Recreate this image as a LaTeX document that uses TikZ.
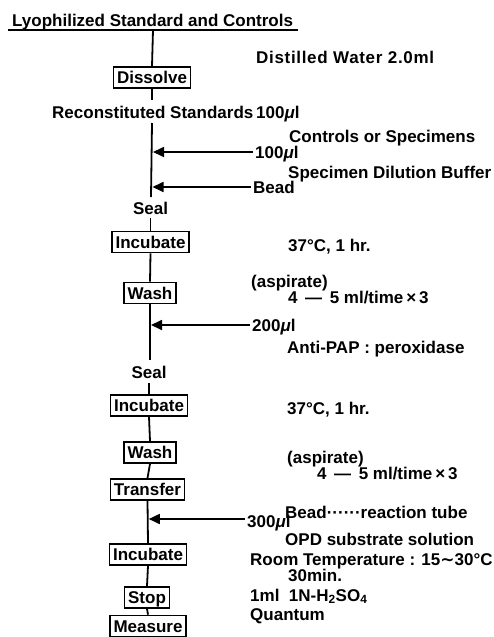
\documentclass[tikz,border=0pt]{standalone}
\usepackage{fontspec}
\setmainfont{Liberation Sans}
\newfontfamily\dvs{DejaVu Sans}
\usetikzlibrary{arrows.meta}
\tikzset{
  every node/.style={font=\bfseries\fontsize{17}{19}\selectfont},
  lab/.style={anchor=west, inner sep=0pt, text height=12.2pt, text depth=0pt},
  arrlab/.style={lab, inner xsep=2.5pt},
  clab/.style={anchor=center, inner sep=0pt, text height=12.2pt, text depth=0pt},
  stepbox/.style={draw, line width=1.7pt, inner xsep=3.5pt, inner ysep=0pt,
    minimum height=21pt, text height=12.2pt, text depth=0pt},
  flow/.style={line width=1.8pt},
  feed/.style={line width=1.7pt, -{Triangle[length=11pt,width=10pt]}},
}
\newcommand{\mul}{\textit{μ}l}
\begin{document}
\begin{tikzpicture}[x=1pt,y=-1pt]
\useasboundingbox (0,0) rectangle (493,637);

% title
\node[lab] (title) at (12,20.5) {Lyophilized Standard and Controls};
\coordinate (ulL) at (8,30);
\coordinate (ulR) at (298,30);
\draw[line width=1.4pt] (ulL) -- (ulR);

% step boxes and stage labels
\node[stepbox] (dissolve) at (152,77.5) {Dissolve};
\node[lab] (recon) at (52,112) {Reconstituted Standards\,100\mul};
\node[clab] (seal1) at (150.5,208) {Seal};
\node[stepbox] (inc1) at (150.5,242) {Incubate};
\node[stepbox] (wash1) at (150,293) {Wash};
\node[clab] (seal2) at (149,372) {Seal};
\node[stepbox] (inc2) at (149,405.5) {Incubate};
\node[stepbox] (wash2) at (150,452.5) {Wash};
\node[stepbox] (transfer) at (147.5,489.5) {Transfer};
\node[stepbox] (inc3) at (148,554.5) {Incubate};
\node[stepbox] (stop) at (147,597.5) {Stop};
\node[stepbox] (measure) at (148,626) {Measure};

% line coordinates
\coordinate (t0) at (153,30);
\coordinate (c1) at (152,100);
\coordinate (c2) at (152,123);
\coordinate (c3) at (151,197);
\coordinate (c4) at (150.5,218);
\coordinate (c5) at (150,360);
\coordinate (c6) at (149,383);
\coordinate (tip1) at (153,152);
\coordinate (tip2) at (152.5,187);
\coordinate (tip3) at (151,325);
\coordinate (tip4) at (148.8,519);

% main flow
\draw[flow] (t0) -- (dissolve.north);
\draw[flow] (dissolve.south) -- (c1);
\draw[flow] (c2) -- (c3);
\draw[flow] (c4) -- (inc1.north);
\draw[flow] (inc1.south) -- (wash1.north);
\draw[flow] (wash1.south) -- (c5);
\draw[flow] (c6) -- (inc2.north);
\draw[flow] (inc2.south) -- (wash2.north);
\draw[flow] (wash2.south) -- (transfer.north);
\draw[flow] (transfer.south) -- (inc3.north);
\draw[flow] (inc3.south) -- (stop.north);
\draw[flow] (stop.south) -- (measure.north);

% right-hand labels
\node[lab] (water) at (256,57) {\addfontfeatures{LetterSpace=4}Distilled Water 2.0ml};
\node[lab] (ctrl) at (289,136) {Controls or Specimens};
\node[arrlab] (v1) at (252.5,152) {100\mul};
\node[lab] (buffer) at (288,172) {Specimen Dilution Buffer};
\node[arrlab] (bead) at (250.5,187) {Bead};
\node[lab] (t1) at (288,245) {37°C, 1 hr.};
\node[lab] (asp1) at (251,281) {(aspirate)};
\node[lab] (vol1) at (288,297) {4 \,—\, 5 ml/time\,×\,3};
\node[arrlab] (v2) at (249.5,325) {200\mul};
\node[lab] (pap) at (287,347) {Anti-PAP : peroxidase};
\node[lab] (t2) at (287,408) {37°C, 1 hr.};
\node[lab] (asp2) at (287,457) {(aspirate)};
\node[lab] (vol2) at (317,473) {4 \,—\, 5 ml/time\,×\,3};
\node[lab] (tube) at (285,512) {Bead······reaction tube};
\node[arrlab] (v3) at (244.5,521) {300\mul};
\node[lab] (opd) at (285,539) {OPD substrate solution};
\node[lab] (room) at (250,559) {Room Temperature : 15{\dvs\bfseries ∼}30°C};
\node[lab] (min) at (288,575) {30min.};
\node[lab] (acid) at (250,595) {1ml\ \ 1N-H\textsubscript{2}SO\textsubscript{4}};
\node[lab] (quant) at (250,614) {Quantum};

% feed arrows
\draw[feed] (v1.west) -- (tip1);
\draw[feed] (bead.west) -- (tip2);
\draw[feed] (v2.west) -- (tip3);
\draw[feed] (v3.west |- tip4) -- (tip4);
\end{tikzpicture}
\end{document}
